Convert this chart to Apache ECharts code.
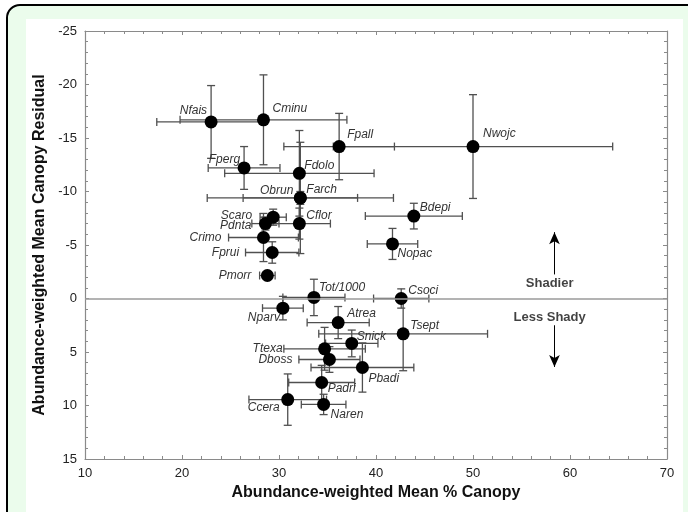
<!DOCTYPE html>
<html>
<head>
<meta charset="utf-8">
<script src="https://cdn.jsdelivr.net/npm/echarts@6/dist/echarts.min.js"></script>
<style>
html,body{margin:0;padding:0;background:#fff;overflow:hidden;}
#frame{position:absolute;left:6px;top:4px;width:700px;height:530px;border:2.5px solid #000;border-radius:14px;background:#ebfcec;box-sizing:border-box;}
#panel{position:absolute;left:26px;top:19px;width:657px;height:500px;background:#fff;}
#chart{position:absolute;left:0;top:0;width:688px;height:512px;}
</style>
</head>
<body>
<div id="frame"></div>
<div id="panel"></div>
<div id="chart"></div>
<script>
// ---- data ----
const species = ['Nfais','Cminu','Fpall','Nwojc','Fperg','Fdolo','Obrun','Farch','Bdepi','Scaro','Cflor','Pdnta','Crimo','Fprui','Nopac','Pmorr','Tot/1000','Csoci','Nparv','Atrea','Tsept','Snick','Ttexa','Dboss','Pbadi','Padri','Naren','Ccera'];
const canopy   = [23.0, 28.4, 36.2, 50.0, 26.4, 32.1, 32.2, 32.2, 43.9, 29.4, 32.1, 28.6, 28.4, 29.3, 41.7, 28.8, 33.6, 42.6, 30.4, 36.1, 42.8, 37.5, 34.7, 35.2, 38.6, 34.4, 34.6, 30.9];
const residual = [-16.5, -16.7, -14.2, -14.2, -12.2, -11.7, -9.4, -9.4, -7.7, -7.6, -7.0, -7.0, -5.7, -4.3, -5.1, -2.15, -0.1, 0.0, 0.9, 2.25, 3.3, 4.2, 4.7, 5.7, 6.45, 7.85, 9.9, 9.45];
const canopyErr   = [5.6, 8.6, 5.7, 14.4, 3.7, 7.7, 9.6, 5.9, 5.0, 1.35, 3.2, 1.4, 3.6, 2.75, 2.6, 0.8, 3.2, 2.85, 2.1, 3.2, 8.7, 2.7, 4.2, 3.15, 5.3, 3.4, 2.3, 4.0];
const residualErr = [3.4, 4.2, 3.1, 4.85, 2.0, 4.0, 0.6, 5.2, 1.2, 0.75, 1.45, 0.6, 2.25, 1.0, 1.45, 0.3, 1.7, 0.9, 1.1, 1.5, 3.45, 1.25, 2.0, 1.2, 2.3, 1.6, 0.95, 2.4];
const xTicks = [10, 20, 30, 40, 50, 60, 70];
const yTicks = [-25, -20, -15, -10, -5, 0, 5, 10, 15];
const annotText = ['Shadier', 'Less Shady'];
const annotX = [57.9, 57.9];
const annotY = [-1.4, 1.8];
const arrowX = [58.4, 58.4];
const arrowFrom = [-2.25, 2.5];
const arrowTo = [-6.2, 6.4];

// ---- label layout (style, not data): [dx, dy, align] ----
const labelLayout = {
  'Nfais':[-4,-11,'right'],'Cminu':[9,-11,'left'],'Fpall':[8,-12,'left'],'Nwojc':[10,-13,'left'],
  'Fperg':[-4,-8,'right'],'Fdolo':[5,-8,'left'],'Obrun':[-7,-7,'right'],'Farch':[6,-8,'left'],
  'Bdepi':[6,-8,'left'],'Scaro':[-21,-2,'right'],'Cflor':[7,-8,'left'],'Pdnta':[-14,2,'right'],
  'Crimo':[-42,0,'right'],'Fprui':[-33,0,'right'],'Nopac':[5,10,'left'],'Pmorr':[-16,0,'right'],
  'Tot/1000':[5,-10,'left'],'Csoci':[7,-8,'left'],'Nparv':[-3,10,'right'],'Atrea':[9,-9,'left'],
  'Tsept':[7,-8,'left'],'Snick':[5,-7,'left'],'Ttexa':[-42,0,'right'],'Dboss':[-37,0,'right'],
  'Pbadi':[6,11,'left'],'Padri':[6,6,'left'],'Naren':[7,10,'left'],'Ccera':[-8,8,'right']
};

const pts = species.map((n,i)=>[canopy[i], residual[i], canopyErr[i], residualErr[i], i]);

const chart = echarts.init(document.getElementById('chart'), null, {renderer:'canvas'});
const axisCol = '#8a8a8a';
const baseAxis = {
  axisLine:{show:true, onZero:false, lineStyle:{color:axisCol, width:1.2}},
  axisTick:{show:true, inside:true, length:4, lineStyle:{color:axisCol}},
  minorTick:{show:true, splitNumber:5, length:3, lineStyle:{color:axisCol}},
  splitLine:{show:false}
};
const option = {
  animation:false,
  backgroundColor:'transparent',
  grid:{left:85, right:21, top:31, bottom:53},
  xAxis:[
    Object.assign({}, baseAxis, {
      type:'value', min:xTicks[0], max:xTicks[xTicks.length-1], interval:10, position:'bottom',
      axisLabel:{color:'#222', fontSize:13, fontFamily:'Liberation Sans, Arial', margin:8},
      name:'Abundance-weighted Mean % Canopy', nameLocation:'middle', nameGap:23,
      nameTextStyle:{color:'#111', fontSize:16, fontWeight:'bold', fontFamily:'Liberation Sans, Arial'}
    }),
    Object.assign({}, baseAxis, {
      type:'value', min:xTicks[0], max:xTicks[xTicks.length-1], interval:10, position:'top',
      axisLabel:{show:false}
    })
  ],
  yAxis:[
    Object.assign({}, baseAxis, {
      type:'value', inverse:true, min:yTicks[0], max:yTicks[yTicks.length-1], interval:5, position:'left',
      axisLabel:{color:'#222', fontSize:13, fontFamily:'Liberation Sans, Arial', margin:8},
      name:'Abundance-weighted Mean Canopy Residual', nameLocation:'middle', nameGap:35, nameRotate:90,
      nameTextStyle:{color:'#111', fontSize:16, fontWeight:'bold', fontFamily:'Liberation Sans, Arial'}
    }),
    Object.assign({}, baseAxis, {
      type:'value', inverse:true, min:yTicks[0], max:yTicks[yTicks.length-1], interval:5, position:'right',
      axisLabel:{show:false}
    })
  ],
  series:[
    {
      type:'custom', name:'errors', z:2,
      data:pts,
      renderItem:function(params, api){
        const x=api.value(0), y=api.value(1), ex=api.value(2), ey=api.value(3);
        const l=api.coord([x-ex,y]), r=api.coord([x+ex,y]);
        const t=api.coord([x,y-ey]), b=api.coord([x,y+ey]);
        const cap=4;
        const st={stroke:'#505050', lineWidth:1.3};
        const mk=(x1,y1,x2,y2)=>({type:'line', shape:{x1,y1,x2,y2}, style:st});
        return {type:'group', children:[
          mk(l[0],l[1],r[0],r[1]),
          mk(l[0],l[1]-cap,l[0],l[1]+cap),
          mk(r[0],r[1]-cap,r[0],r[1]+cap),
          mk(t[0],t[1],b[0],b[1]),
          mk(t[0]-cap,t[1],t[0]+cap,t[1]),
          mk(b[0]-cap,b[1],b[0]+cap,b[1])
        ]};
      },
      markLine:{
        silent:true, symbol:['none','none'], label:{show:false},
        lineStyle:{color:'#9a9a9a', width:1.5, type:'solid'},
        data:[{yAxis:0}]
      }
    },
    {
      type:'scatter', name:'means', z:3,
      data:pts.map(p=>[p[0],p[1]]),
      symbol:'circle', symbolSize:13,
      itemStyle:{color:'#000', opacity:1}
    },
    {
      type:'custom', name:'labels', z:4,
      data:pts,
      renderItem:function(params, api){
        const i=api.value(4);
        const c=api.coord([api.value(0), api.value(1)]);
        const lay=labelLayout[species[i]];
        return {type:'text', x:c[0]+lay[0], y:c[1]+lay[1], style:{
          text:species[i], align:lay[2], verticalAlign:'middle',
          fill:'#333', font:'italic 12px "Liberation Sans", Arial'
        }};
      }
    },
    {
      type:'scatter', name:'annot', z:4,
      data:annotText.map((t,i)=>({value:[annotX[i], annotY[i]], name:t})),
      symbolSize:0,
      label:{show:true, position:'inside', formatter:'{b}', color:'#111', fontSize:13, fontWeight:'bold', fontFamily:'Liberation Sans, Arial'},
      markLine:{
        silent:true, symbol:['none','arrow'], symbolSize:[8,12], label:{show:false},
        lineStyle:{color:'#000', width:1, type:'solid'},
        data:arrowX.map((ax,i)=>[{coord:[ax, arrowFrom[i]]},{coord:[ax, arrowTo[i]]}])
      }
    }
  ]
};
chart.setOption(option);
</script>
</body>
</html>
